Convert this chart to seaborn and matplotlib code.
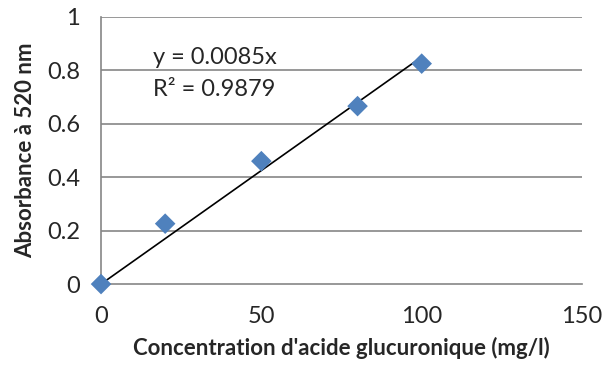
import numpy as np
import pandas as pd
import matplotlib
matplotlib.use('Agg')
import matplotlib.pyplot as plt
import seaborn as sns

concentration = [0, 20, 50, 80, 100]
absorbance = [0.0, 0.226, 0.46, 0.666, 0.825]
slope = 0.0085
x_ticks = [0, 50, 100, 150]
y_ticks = [0, 0.2, 0.4, 0.6, 0.8, 1]

df = pd.DataFrame({'conc': concentration, 'abs': absorbance})

sns.set_style('white')
plt.rcParams['font.family'] = ['Lato', 'DejaVu Sans']

fig = plt.figure(figsize=(6.05, 3.67), dpi=100)
ax = fig.add_axes([0.167, 0.226, 0.795, 0.728])

grid_col = '#868686'
for yv in y_ticks[1:]:
    ax.axhline(yv, color=grid_col, lw=1.2, zorder=0)

# trendline through origin
xl = np.array([0, max(concentration)])
sns.lineplot(x=xl, y=slope * xl, color='black', lw=1.2, ax=ax, zorder=2)
sns.scatterplot(data=df, x='conc', y='abs', marker='D', s=110, color='#4F81BD',
                edgecolor='none', ax=ax, zorder=3, clip_on=False)

ax.set_xlim(0, 150)
ax.set_ylim(0, 1)
ax.set_xticks(x_ticks)
ax.set_yticks(y_ticks)
ax.set_yticklabels(['0', '0.2', '0.4', '0.6', '0.8', '1'])
for s in ['top', 'right']:
    ax.spines[s].set_visible(False)
ax.spines['left'].set_color(grid_col)
ax.spines['bottom'].set_color(grid_col)
ax.spines['left'].set_linewidth(1.2)
ax.spines['bottom'].set_linewidth(1.2)
ax.tick_params(axis='both', direction='out', length=6, width=1.2, color=grid_col,
               labelsize=17)
ax.tick_params(axis='y', pad=9)
ax.tick_params(axis='x', pad=10)

ax.set_xlabel("Concentration d'acide glucuronique (mg/l)", fontsize=16, fontweight='bold',
              labelpad=7)
ax.set_ylabel('Absorbance à 520 nm', fontsize=16, fontweight='bold', labelpad=8)

ax.text(0.108, 0.824, 'y = 0.0085x', transform=ax.transAxes, fontsize=17)
ax.text(0.108, 0.704, 'R² = 0.9879', transform=ax.transAxes, fontsize=17)

fig.savefig('out.png', dpi=100)
